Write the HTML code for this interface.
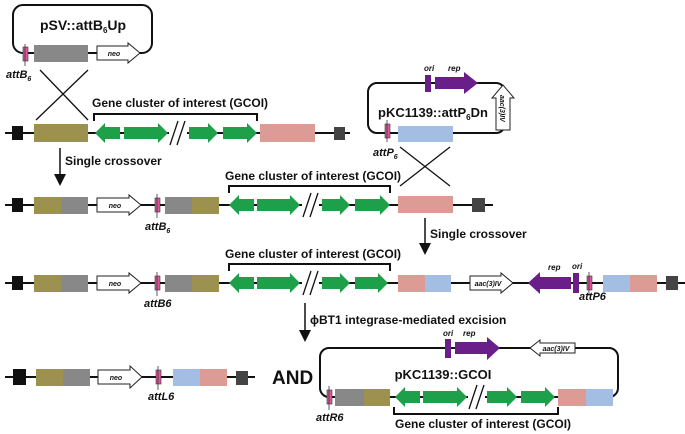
<!DOCTYPE html>
<html><head><meta charset="utf-8"><style>
html,body{margin:0;padding:0;background:#fff;}
svg{display:block;}
text{font-family:"Liberation Sans",Arial,sans-serif;font-weight:bold;fill:#111;}
.it{font-style:italic;}
.g{fill:#1ea04a;}
.p{fill:#6a1e8a;}
.w{fill:#fff;stroke:#222;stroke-width:1;}
.ln{stroke:#111;stroke-width:2;fill:none;}
.thin{stroke:#111;stroke-width:1.3;fill:none;}
</style></head><body>
<svg width="685" height="434" viewBox="0 0 685 434" xmlns="http://www.w3.org/2000/svg">
<defs><marker id="ah" markerWidth="8" markerHeight="8" refX="4" refY="4" orient="auto"><path d="M0,0 L8,4 L0,8 z" fill="#111"/></marker></defs>

<!-- pSV plasmid -->
<rect x="13" y="5" width="139" height="48" rx="10" class="ln"/>
<rect x="34" y="45" width="54" height="17" fill="#888"/>
<polygon class="w" points="97,46 128,46 128,43 140,53 128,63 128,60 97,60"/>
<text x="114" y="56" font-size="7" class="it" font-weight="normal" text-anchor="middle">neo</text>
<rect x="23" y="47" width="5" height="14" fill="#e0579b" stroke="#333" stroke-width="0.6"/>
<line x1="25" y1="44" x2="25" y2="66" stroke="#333" stroke-width="0.8"/>
<text x="83" y="30" font-size="14" text-anchor="middle">pSV::attB<tspan font-size="8" dy="3">6</tspan><tspan dy="-3">Up</tspan></text>
<text x="6" y="78" font-size="11" class="it">attB<tspan font-size="7" dy="3">6</tspan></text>
<line x1="36" y1="120" x2="88" y2="70" class="thin"/>
<line x1="88" y1="120" x2="40" y2="70" class="thin"/>

<!-- Row 1 -->
<line x1="5" y1="133" x2="350" y2="133" class="ln"/>
<rect x="12" y="126" width="11" height="14" fill="#111"/>
<rect x="34" y="124" width="54" height="18" fill="#9d9150"/>
<polygon class="g" points="95,133 105,123 105,127 120,127 120,139 105,139 105,143"/>
<polygon class="g" points="124,127 158,127 158,123 168,133 158,143 158,139 124,139"/>
<rect x="169" y="126" width="18" height="14" fill="#fff"/>
<line x1="170" y1="145" x2="178" y2="121" class="thin"/><line x1="177" y1="145" x2="185" y2="121" class="thin"/>
<polygon class="g" points="189,127 208,127 208,123 218,133 208,143 208,139 189,139"/>
<polygon class="g" points="223,127 247,127 247,123 257,133 247,143 247,139 223,139"/>
<rect x="260" y="124" width="55" height="18" fill="#dc9b94"/>
<rect x="334" y="127" width="11" height="13" fill="#444"/>
<polyline points="94,121 94,114 257,114 257,121" class="ln"/>
<text x="92" y="107" font-size="12">Gene cluster of interest (GCOI)</text>

<line x1="60" y1="148" x2="60" y2="180" stroke="#111" stroke-width="1.5" marker-end="url(#ah)"/>
<text x="65" y="165" font-size="12">Single crossover</text>

<!-- pKC plasmid -->
<rect x="368" y="83" width="137" height="50" rx="9" class="ln"/>
<rect x="425" y="75" width="6" height="17" class="p"/>
<polygon class="p" points="435,77 464,77 464,72 478,83 464,94 464,89 435,89"/>
<text x="424" y="71" font-size="8" class="it" font-weight="normal">ori</text>
<text x="448" y="71" font-size="8" class="it" font-weight="normal">rep</text>
<polygon class="w" points="496,130 496,98 492,98 503,85 514,98 510,98 510,130"/>
<text transform="translate(500,95) rotate(90)" font-size="7" class="it" font-weight="normal">aac(3)IV</text>
<rect x="398" y="126" width="55" height="16" fill="#a3bde3"/>
<rect x="385" y="124" width="5" height="14" fill="#e0579b" stroke="#333" stroke-width="0.6"/>
<line x1="387" y1="120" x2="387" y2="142" stroke="#333" stroke-width="0.8"/>
<text x="378" y="117" font-size="13">pKC1139::attP<tspan font-size="8" dy="3">6</tspan><tspan dy="-3">Dn</tspan></text>
<text x="373" y="156" font-size="11" class="it">attP<tspan font-size="7" dy="3">6</tspan></text>
<line x1="400" y1="186" x2="450" y2="147" class="thin"/>
<line x1="450" y1="186" x2="400" y2="147" class="thin"/>

<!-- Row 2 -->
<line x1="5" y1="205" x2="493" y2="205" class="ln"/>
<rect x="12" y="198" width="11" height="14" fill="#111"/>
<rect x="34" y="197" width="27" height="17" fill="#9d9150"/>
<rect x="61" y="197" width="27" height="17" fill="#888"/>
<polygon class="w" points="97,198 129,198 129,195 141,205 129,215 129,212 97,212"/>
<text x="115" y="208" font-size="7" class="it" font-weight="normal" text-anchor="middle">neo</text>
<rect x="155" y="198" width="5" height="14" fill="#e0579b" stroke="#333" stroke-width="0.6"/>
<line x1="157" y1="194" x2="157" y2="218" stroke="#333" stroke-width="0.8"/>
<text x="145" y="230" font-size="11" class="it">attB<tspan font-size="7" dy="3">6</tspan></text>
<rect x="165" y="197" width="27" height="17" fill="#888"/>
<rect x="192" y="197" width="27" height="17" fill="#9d9150"/>
<polygon class="g" points="229,205 239,195 239,199 254,199 254,211 239,211 239,215"/>
<polygon class="g" points="257,199 290,199 290,195 300,205 290,215 290,211 257,211"/>
<rect x="302" y="198" width="17" height="14" fill="#fff"/>
<line x1="303" y1="217" x2="311" y2="193" class="thin"/><line x1="310" y1="217" x2="318" y2="193" class="thin"/>
<polygon class="g" points="322,199 340,199 340,195 350,205 340,215 340,211 322,211"/>
<polygon class="g" points="355,199 380,199 380,195 390,205 380,215 380,211 355,211"/>
<rect x="398" y="196" width="55" height="17" fill="#dc9b94"/>
<rect x="472" y="198" width="13" height="14" fill="#444"/>
<polyline points="229,193 229,186 390,186 390,193" class="ln"/>
<text x="225" y="180" font-size="12">Gene cluster of interest (GCOI)</text>

<line x1="425" y1="218" x2="425" y2="249" stroke="#111" stroke-width="1.5" marker-end="url(#ah)"/>
<text x="430" y="238" font-size="12">Single crossover</text>

<!-- Row 3 -->
<line x1="5" y1="283" x2="685" y2="283" class="ln"/>
<rect x="12" y="276" width="11" height="14" fill="#111"/>
<rect x="34" y="275" width="27" height="17" fill="#9d9150"/>
<rect x="61" y="275" width="27" height="17" fill="#888"/>
<polygon class="w" points="97,276 129,276 129,273 141,283 129,293 129,290 97,290"/>
<text x="115" y="286" font-size="7" class="it" font-weight="normal" text-anchor="middle">neo</text>
<rect x="155" y="276" width="5" height="14" fill="#e0579b" stroke="#333" stroke-width="0.6"/>
<line x1="157" y1="272" x2="157" y2="296" stroke="#333" stroke-width="0.8"/>
<text x="144" y="307" font-size="11" class="it">attB6</text>
<rect x="165" y="275" width="27" height="17" fill="#888"/>
<rect x="192" y="275" width="27" height="17" fill="#9d9150"/>
<polygon class="g" points="229,283 239,273 239,277 254,277 254,289 239,289 239,293"/>
<polygon class="g" points="257,277 290,277 290,273 300,283 290,293 290,289 257,289"/>
<rect x="302" y="276" width="17" height="14" fill="#fff"/>
<line x1="303" y1="295" x2="311" y2="271" class="thin"/><line x1="310" y1="295" x2="318" y2="271" class="thin"/>
<polygon class="g" points="322,277 340,277 340,273 350,283 340,293 340,289 322,289"/>
<polygon class="g" points="355,277 378,277 378,273 388,283 378,293 378,289 355,289"/>
<polyline points="229,271 229,264 390,264 390,271" class="ln"/>
<text x="225" y="258" font-size="12">Gene cluster of interest (GCOI)</text>
<rect x="398" y="275" width="27" height="17" fill="#dc9b94"/>
<rect x="425" y="275" width="26" height="17" fill="#a3bde3"/>
<polygon class="w" points="470,276 501,276 501,273 513,283 501,293 501,290 470,290"/>
<text x="488" y="286" font-size="7" class="it" font-weight="normal" text-anchor="middle">aac(3)IV</text>
<polygon class="p" points="528,283 540,272 540,277 571,277 571,289 540,289 540,294"/>
<rect x="573" y="273" width="6" height="20" class="p"/>
<text x="548" y="270" font-size="8" class="it" font-weight="normal">rep</text>
<text x="572" y="269" font-size="8" class="it" font-weight="normal">ori</text>
<rect x="587" y="276" width="5" height="14" fill="#e0579b" stroke="#333" stroke-width="0.6"/>
<line x1="589" y1="272" x2="589" y2="296" stroke="#333" stroke-width="0.8"/>
<text x="579" y="300" font-size="11" class="it">attP6</text>
<rect x="603" y="275" width="27" height="17" fill="#a3bde3"/>
<rect x="630" y="275" width="27" height="17" fill="#dc9b94"/>
<rect x="666" y="276" width="12" height="14" fill="#444"/>

<line x1="305" y1="303" x2="305" y2="336" stroke="#111" stroke-width="1.5" marker-end="url(#ah)"/>
<text x="310" y="324" font-size="12">ϕBT1 integrase-mediated excision</text>

<!-- Row 4 -->
<line x1="5" y1="377" x2="255" y2="377" class="ln"/>
<rect x="13" y="369" width="13" height="16" fill="#111"/>
<rect x="36" y="369" width="27" height="17" fill="#9d9150"/>
<rect x="63" y="369" width="27" height="17" fill="#888"/>
<polygon class="w" points="98,370 130,370 130,366 142,377 130,388 130,384 98,384"/>
<text x="116" y="380" font-size="7" class="it" font-weight="normal" text-anchor="middle">neo</text>
<rect x="156" y="370" width="5" height="14" fill="#e0579b" stroke="#333" stroke-width="0.6"/>
<line x1="158" y1="366" x2="158" y2="390" stroke="#333" stroke-width="0.8"/>
<text x="148" y="400" font-size="11" class="it">attL6</text>
<rect x="173" y="369" width="27" height="17" fill="#a3bde3"/>
<rect x="200" y="369" width="27" height="17" fill="#dc9b94"/>
<rect x="236" y="371" width="12" height="14" fill="#444"/>
<text x="272" y="384" font-size="19">AND</text>

<!-- bottom plasmid -->
<rect x="320" y="348" width="298" height="49" rx="9" class="ln"/>
<rect x="445" y="339" width="6" height="19" class="p"/>
<polygon class="p" points="455,342 487,342 487,337 500,348 487,360 487,354 455,354"/>
<text x="443" y="336" font-size="8" class="it" font-weight="normal">ori</text>
<text x="463" y="336" font-size="8" class="it" font-weight="normal">rep</text>
<polygon class="w" points="530,348 540,340 540,343 575,343 575,353 540,353 540,356"/>
<text x="556" y="351" font-size="7" class="it" font-weight="normal" text-anchor="middle">aac(3)IV</text>
<text x="443" y="379" font-size="13" text-anchor="middle">pKC1139::GCOI</text>
<rect x="327" y="390" width="5" height="14" fill="#e0579b" stroke="#333" stroke-width="0.6"/>
<line x1="329" y1="386" x2="329" y2="410" stroke="#333" stroke-width="0.8"/>
<text x="316" y="421" font-size="11" class="it">attR6</text>
<rect x="335" y="389" width="29" height="17" fill="#888"/>
<rect x="364" y="389" width="26" height="17" fill="#9d9150"/>
<polygon class="g" points="395,397 405,387 405,391 420,391 420,403 405,403 405,407"/>
<polygon class="g" points="423,391 457,391 457,387 467,397 457,407 457,403 423,403"/>
<rect x="468" y="390" width="17" height="14" fill="#fff"/>
<line x1="469" y1="409" x2="477" y2="385" class="thin"/><line x1="476" y1="409" x2="484" y2="385" class="thin"/>
<polygon class="g" points="487,391 507,391 507,387 517,397 507,407 507,403 487,403"/>
<polygon class="g" points="521,391 545,391 545,387 555,397 545,407 545,403 521,403"/>
<rect x="558" y="389" width="28" height="17" fill="#dc9b94"/>
<rect x="586" y="389" width="27" height="17" fill="#a3bde3"/>
<polyline points="394,407 394,414 558,414 558,407" class="ln"/>
<text x="395" y="428" font-size="12">Gene cluster of interest (GCOI)</text>
</svg>
</body></html>
